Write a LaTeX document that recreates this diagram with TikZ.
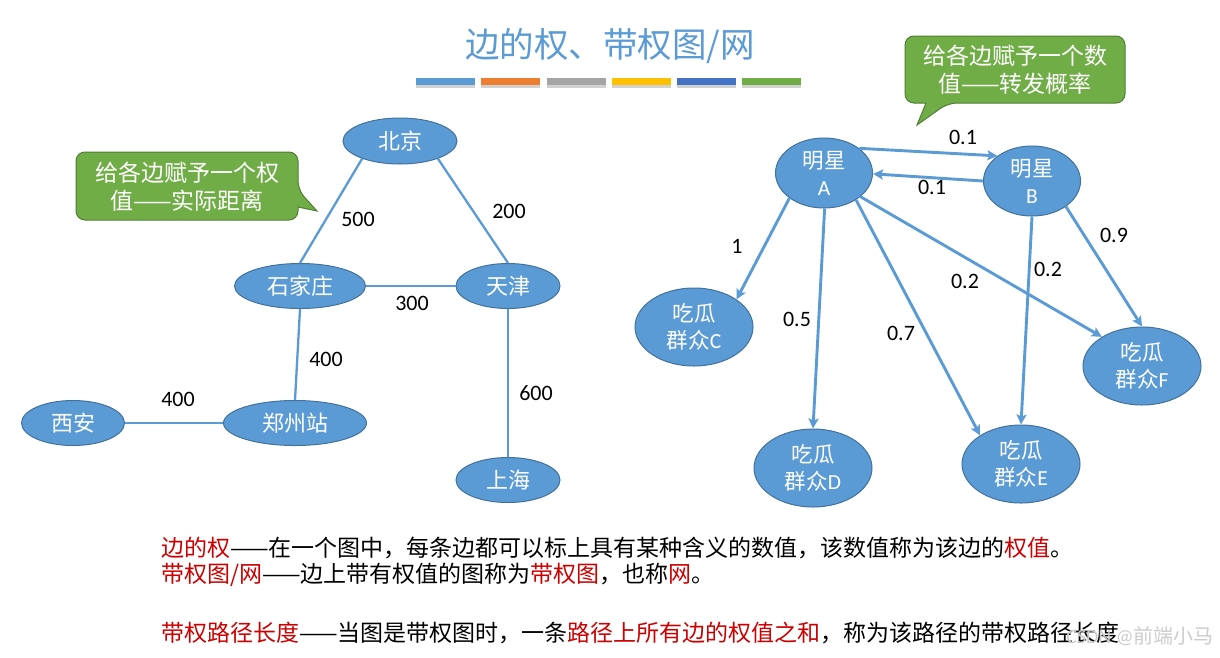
\documentclass[tikz,border=0pt]{standalone}
\usepackage{fontspec}
\setmainfont{Carlito}
\newfontfamily\cjk{Noto Sans CJK SC}
\usetikzlibrary{shapes.geometric,arrows.meta}
\definecolor{nodeblue}{RGB}{91,155,213}
\definecolor{nodeedge}{RGB}{65,113,156}
\definecolor{calloutgreen}{RGB}{112,173,71}
\definecolor{calloutedge}{RGB}{80,126,50}
\definecolor{barorange}{RGB}{237,125,49}
\definecolor{bargray}{RGB}{165,165,165}
\definecolor{baryellow}{RGB}{255,192,0}
\definecolor{bardarkblue}{RGB}{68,114,196}
\definecolor{bargreen}{RGB}{112,173,71}
\definecolor{defred}{RGB}{204,0,0}
\begin{document}
\begin{tikzpicture}[x=1pt,y=-1pt,
 city/.style={ellipse, fill=nodeblue, draw=nodeedge, line width=1pt, inner sep=0pt, text=white, font=\cjk\fontsize{22}{26}\selectfont},
 person/.style={ellipse, fill=nodeblue, draw=nodeedge, line width=1pt, inner sep=0pt, text=white, align=center, font=\fontsize{21.5}{27}\selectfont},
 road/.style={draw=nodeblue, line width=2.3pt},
 link/.style={draw=nodeblue, line width=2.9pt, -{Stealth[length=10pt,width=10pt,inset=2pt]}},
 wlabel/.style={font=\fontsize{22}{26}\selectfont, text=black, inner sep=0pt},
 calloutbox/.style={fill=calloutgreen, draw=calloutedge, line width=1pt},
 callouttext/.style={text=white, align=center, inner sep=0pt, font=\cjk\fontsize{23}{28}\selectfont},
 barbox/.style={minimum width=59pt, minimum height=7pt, inner sep=0pt},
 defline/.style={anchor=west, inner sep=0pt, font=\cjk\fontsize{23}{28}\selectfont}
]
\useasboundingbox (0,0) rectangle (1220,657);
\fill[white] (0,0) rectangle (1220,657);

% title
\node[text=nodeblue, font=\cjk\fontsize{34.5}{40}\selectfont] (title) at (610,46) {边的权、带权图/网};
\foreach \x/\c [count=\i] in {445.5/nodeblue,510.8/barorange,576/bargray,641.3/baryellow,706.5/bardarkblue,771.8/bargreen}{
  \fill[black!18] (\x-29.5,80) rectangle (\x+29.5,87.5);
  \node[barbox, fill=\c] (bar\i) at (\x,81.5) {};
}

% left callout
\draw[calloutbox, rounded corners=9pt] (76,152) -- (298,152) -- (298,190) [sharp corners] -- (317,211) -- (298,207) [rounded corners=9pt] -- (298,220) -- (76,220) -- cycle;
\node[callouttext] (calloutL) at (187,187) {给各边赋予一个权\\值——实际距离};

% right callout
\draw[calloutbox, rounded corners=9pt] (905,36) -- (1125,36) -- (1125,103) -- (948,103) [sharp corners] -- (917,125) -- (926,103) [rounded corners=9pt] -- (905,103) -- cycle;
\node[callouttext] (calloutR) at (1015,70) {给各边赋予一个数\\值——转发概率};

% left graph
\node[city, minimum width=114pt, minimum height=46pt] (bj) at (400,141) {北京};
\node[city, minimum width=131pt, minimum height=45pt] (sjz) at (300,286) {石家庄};
\node[city, minimum width=104pt, minimum height=45pt] (tj) at (508,286) {天津};
\node[city, minimum width=143pt, minimum height=45pt] (zz) at (295,423) {郑州站};
\node[city, minimum width=103pt, minimum height=45pt] (xa) at (73,423) {西安};
\node[city, minimum width=104pt, minimum height=45pt] (sh) at (508,480) {上海};

\draw[road] (bj.205) -- (sjz.north);
\draw[road] (bj.-25) -- (tj.north);
\draw[road] (sjz.east) -- (tj.west);
\draw[road] (sjz.south) -- (zz.north);
\draw[road] (xa.east) -- (zz.west);
\draw[road] (tj.south) -- (sh.north);

\node[wlabel] (w500) at (358,219) {500};
\node[wlabel] (w200) at (509,211) {200};
\node[wlabel] (w300) at (412,303) {300};
\node[wlabel] (w400a) at (326,359) {400};
\node[wlabel] (w400b) at (178,399) {400};
\node[wlabel] (w600) at (536,393) {600};

% right graph
\node[person, minimum width=97pt, minimum height=70pt] (A) at (824,173) {{\cjk 明星}\\A};
\node[person, minimum width=97pt, minimum height=70pt] (B) at (1032,181) {{\cjk 明星}\\B};
\node[person, minimum width=118pt, minimum height=78pt] (C) at (694,327) {{\cjk 吃瓜}\\{\cjk 群众}C};
\node[person, minimum width=118pt, minimum height=78pt] (D) at (813,468) {{\cjk 吃瓜}\\{\cjk 群众}D};
\node[person, minimum width=118pt, minimum height=78pt] (E) at (1021,464) {{\cjk 吃瓜}\\{\cjk 群众}E};
\node[person, minimum width=118pt, minimum height=78pt] (F) at (1142,366) {{\cjk 吃瓜}\\{\cjk 群众}F};

\draw[link] (A.35) -- (B.144);
\draw[link] (B.180) -- (A.-1);
\draw[link] (A.216) -- (C.33);
\draw[link] (A.-89) -- (D.north);
\draw[link] (A.-40) -- (E.145);
\draw[link] (A.-33) -- (F.144);
\draw[link] (B.-90) -- (E.north);
\draw[link] (B.-37) -- (F.north);

\node[wlabel] (pAB) at (963,137) {0.1};
\node[wlabel] (pBA) at (932,187) {0.1};
\node[wlabel] (pAC) at (737,246) {1};
\node[wlabel] (pAD) at (797,319) {0.5};
\node[wlabel] (pAE) at (901,333) {0.7};
\node[wlabel] (pAF) at (965,281) {0.2};
\node[wlabel] (pBE) at (1048,269) {0.2};
\node[wlabel] (pBF) at (1114,235) {0.9};

% definitions
\node[defline] (def1) at (161,548) {{\color{defred}边的权}——在一个图中，每条边都可以标上具有某种含义的数值，该数值称为该边的{\color{defred}权值}。};
\node[defline] (def2) at (161,575) {{\color{defred}带权图/网}——边上带有权值的图称为{\color{defred}带权图}，也称{\color{defred}网}。};
\node[defline] (def3) at (161,633) {{\color{defred}带权路径长度}——当图是带权图时，一条{\color{defred}路径上所有边的权值之和}，称为该路径的带权路径长度};

\node[anchor=east, inner sep=0pt, text=gray!40, font=\fontsize{20}{24}\selectfont] (wm) at (1214,636) {CSDN @{\cjk 前端小马}};
\end{tikzpicture}
\end{document}
